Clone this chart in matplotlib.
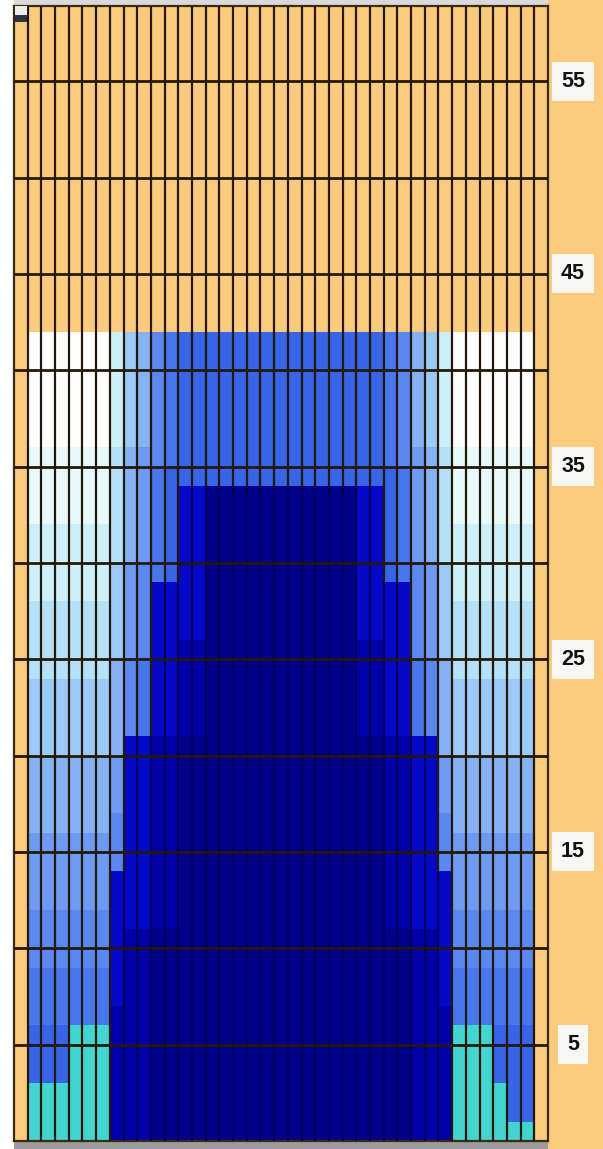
import numpy as np
import matplotlib
matplotlib.use("Agg")
import matplotlib.pyplot as plt
from matplotlib.colors import ListedColormap
from matplotlib.patches import Rectangle
from matplotlib.collections import LineCollection

# ---- data -------------------------------------------------------------
LEVEL_CODES = list("0123456789MmNT")
LEVEL_COLORS = ["#FFFFFF", "#E6FAFB", "#CDEFF9", "#B4E0F8", "#9CCAF8",
                "#86B2F5", "#6E9AF2", "#5A88F0", "#4876EC", "#3864E8",
                "#0608C8", "#0000A8", "#000088", "#42D4CE"]
DARK_CODES = "MmN"

# one string per row (37 columns), top row (41) first
GRID_ROWS = [
    "0000002457899999999" + "999999987542000000",  # 41
    "0000002457899999999" + "999999987542000000",  # 40
    "0000002457899999999" + "999999987542000000",  # 39
    "0000002457899999999" + "999999987542000000",  # 38
    "0000002457899999999" + "999999987542000000",  # 37
    "0000002457899999999" + "999999987542000000",  # 36
    "1111113567899999999" + "999999987653111111",  # 35
    "1111113568999999999" + "999999998653111111",  # 34
    "11111135689MMNNNNNN" + "NNNNNMM98653111111",  # 33
    "11111135689MMNNNNNN" + "NNNNNMM98653111111",  # 32
    "22222235689MMNNNNNN" + "NNNNNMM98653222222",  # 31
    "22222235689MMNNNNNN" + "NNNNNMM98653222222",  # 30
    "22222246789MMNNNNNN" + "NNNNNMM98764222222",  # 29
    "222222467MMMMNNNNNN" + "NNNNNMMMM764222222",  # 28
    "333333467MMMMNNNNNN" + "NNNNNMMMM764333333",  # 27
    "333333467MMMMNNNNNN" + "NNNNNMMMM764333333",  # 26
    "333333467MMmmNNNNNN" + "NNNNNmmMM764333333",  # 25
    "333333578MMmmNNNNNN" + "NNNNNmmMM875333333",  # 24
    "444444578MMmmNNNNNN" + "NNNNNmmMM875444444",  # 23
    "444444578MMmmNNNNNN" + "NNNNNmmMM875444444",  # 22
    "444444578MMmmNNNNNN" + "NNNNNmmMM875444444",  # 21
    "4444445MMmmNNNNNNNN" + "NNNNNNNmmMM5444444",  # 20
    "5555556MMmmNNNNNNNN" + "NNNNNNNmmMM6555555",  # 19
    "5555556MMmmNNNNNNNN" + "NNNNNNNmmMM6555555",  # 18
    "5555556MMmmNNNNNNNN" + "NNNNNNNmmMM6555555",  # 17
    "5555557MMmmNNNNNNNN" + "NNNNNNNmmMM7555555",  # 16
    "6666667MMmmNNNNNNNN" + "NNNNNNNmmMM7666666",  # 15
    "6666667MMmmNNNNNNNN" + "NNNNNNNmmMM7666666",  # 14
    "666666MMMmmNNNNNNNN" + "NNNNNNNmmMMM666666",  # 13
    "666666MMMmmNNNNNNNN" + "NNNNNNNmmMMM666666",  # 12
    "777777MMMmmNNNNNNNN" + "NNNNNNNmmMMM777777",  # 11
    "777777MmmNNNNNNNNNN" + "NNNNNNNNNmmM777777",  # 10
    "777777MmmNNNNNNNNNN" + "NNNNNNNNNmmM777777",  # 9
    "888888MmmNNNNNNNNNN" + "NNNNNNNNNmmM888888",  # 8
    "888888MmmNNNNNNNNNN" + "NNNNNNNNNmmM888888",  # 7
    "888888mmmNNNNNNNNNN" + "NNNNNNNNNmmm888888",  # 6
    "999TTTmmmNNNNNNNNNN" + "NNNNNNNNNmmmTTT999",  # 5
    "999TTTmmmNNNNNNNNNN" + "NNNNNNNNNmmmTTT999",  # 4
    "999TTTmmmNNNNNNNNNN" + "NNNNNNNNNmmmTTT999",  # 3
    "TTTTTTmmmNNNNNNNNNN" + "NNNNNNNNNmmmTTTT99",  # 2
    "TTTTTTmmmNNNNNNNNNN" + "NNNNNNNNNmmmTTTT99",  # 1
    "TTTTTTmmmNNNNNNNNNN" + "NNNNNNNNNmmmTTTTTT",  # 0
]

Y_TICKS = [5, 15, 25, 35, 45, 55]
Y_TICK_LABELS = ["5", "15", "25", "35", "45", "55"]

# ---- layout / style -----------------------------------------------------
W, H = 603, 1149
ORANGE = "#FBCB7D"
LINE = "#24180A"
LINE_ON_DARK = "#00005C"
N_COLS_TOTAL = 39
FIRST_COL = 1
Y_MAX = 58.9

fig = plt.figure(figsize=(W / 100, H / 100), dpi=100)
fig.patch.set_facecolor("white")

ax_l, ax_r, ax_t, ax_b = 14, 548, 6, 1141
ax = fig.add_axes([ax_l / W, (H - ax_b) / H, (ax_r - ax_l) / W, (ax_b - ax_t) / H])
ax.set_facecolor(ORANGE)


def fig_rect(x0, y0, x1, y1, color, z=-1):
    fig.patches.append(Rectangle((x0 / W, 1 - y1 / H), (x1 - x0) / W, (y1 - y0) / H,
                                 transform=fig.transFigure, facecolor=color,
                                 edgecolor="none", zorder=z))


fig_rect(ax_r, 0, W, H, ORANGE)
fig_rect(ax_l, ax_b, ax_r, H, "#9C9C9C")
fig_rect(ax_l, 0, ax_r, ax_t, "#DADADA")

rows_bottom_up = GRID_ROWS[::-1]
codes = np.array([[LEVEL_CODES.index(ch) for ch in row] for row in rows_bottom_up])
n_rows, n_cols = codes.shape
xe = np.arange(FIRST_COL, FIRST_COL + n_cols + 1)
ye = np.arange(0, n_rows + 1)
cmap = ListedColormap(LEVEL_COLORS)
ax.pcolormesh(xe, ye, codes, cmap=cmap, vmin=-0.5, vmax=len(LEVEL_COLORS) - 0.5,
              shading="flat", edgecolors="none", antialiased=False, zorder=1)

ax.set_xlim(0, N_COLS_TOTAL)
ax.set_ylim(0, Y_MAX)


# vertical cell borders: faint where both neighbouring cells are dark navy
def cell(r, c):
    j = c - FIRST_COL
    if 0 <= r < n_rows and 0 <= j < n_cols:
        return rows_bottom_up[r][j]
    return None


segs, cols = [], []
for xb in range(1, N_COLS_TOTAL):
    for r in range(n_rows):
        a, b = cell(r, xb - 1), cell(r, xb)
        dark = a is not None and b is not None and a in DARK_CODES and b in DARK_CODES
        segs.append([(xb, r), (xb, r + 1)])
        cols.append(LINE_ON_DARK if dark else LINE)
    segs.append([(xb, n_rows), (xb, Y_MAX)])
    cols.append(LINE)
ax.add_collection(LineCollection(segs, colors=cols, linewidths=1.6, zorder=3,
                                 capstyle="butt"))

ax.hlines(np.arange(5, Y_MAX, 5), 0, N_COLS_TOTAL, colors=LINE, linewidth=2.0, zorder=4)

for s in ax.spines.values():
    s.set_color("#3B2A14")
    s.set_linewidth(1.6)
ax.set_xticks([])
ax.set_yticks([])

# tick labels on the right in pale boxes
for val, lab in zip(Y_TICKS, Y_TICK_LABELS):
    ax.text(1.0 + (573 - ax_r) / (ax_r - ax_l), val, lab,
            transform=ax.get_yaxis_transform(), ha="center", va="center",
            fontsize=15.5, fontweight="bold", color="#111111",
            family=["Liberation Sans Narrow", "Liberation Sans", "DejaVu Sans"],
            bbox=dict(boxstyle="square,pad=0.42", facecolor="#F6F6F4", edgecolor="none"),
            clip_on=False, zorder=5)

# small icon at the top-left corner
fig_rect(15, 6, 27, 15, "#ECECEC", z=10)
fig_rect(15, 15, 27, 22, "#2B3240", z=10)

fig.savefig("out.png", dpi=100, facecolor=fig.get_facecolor())
